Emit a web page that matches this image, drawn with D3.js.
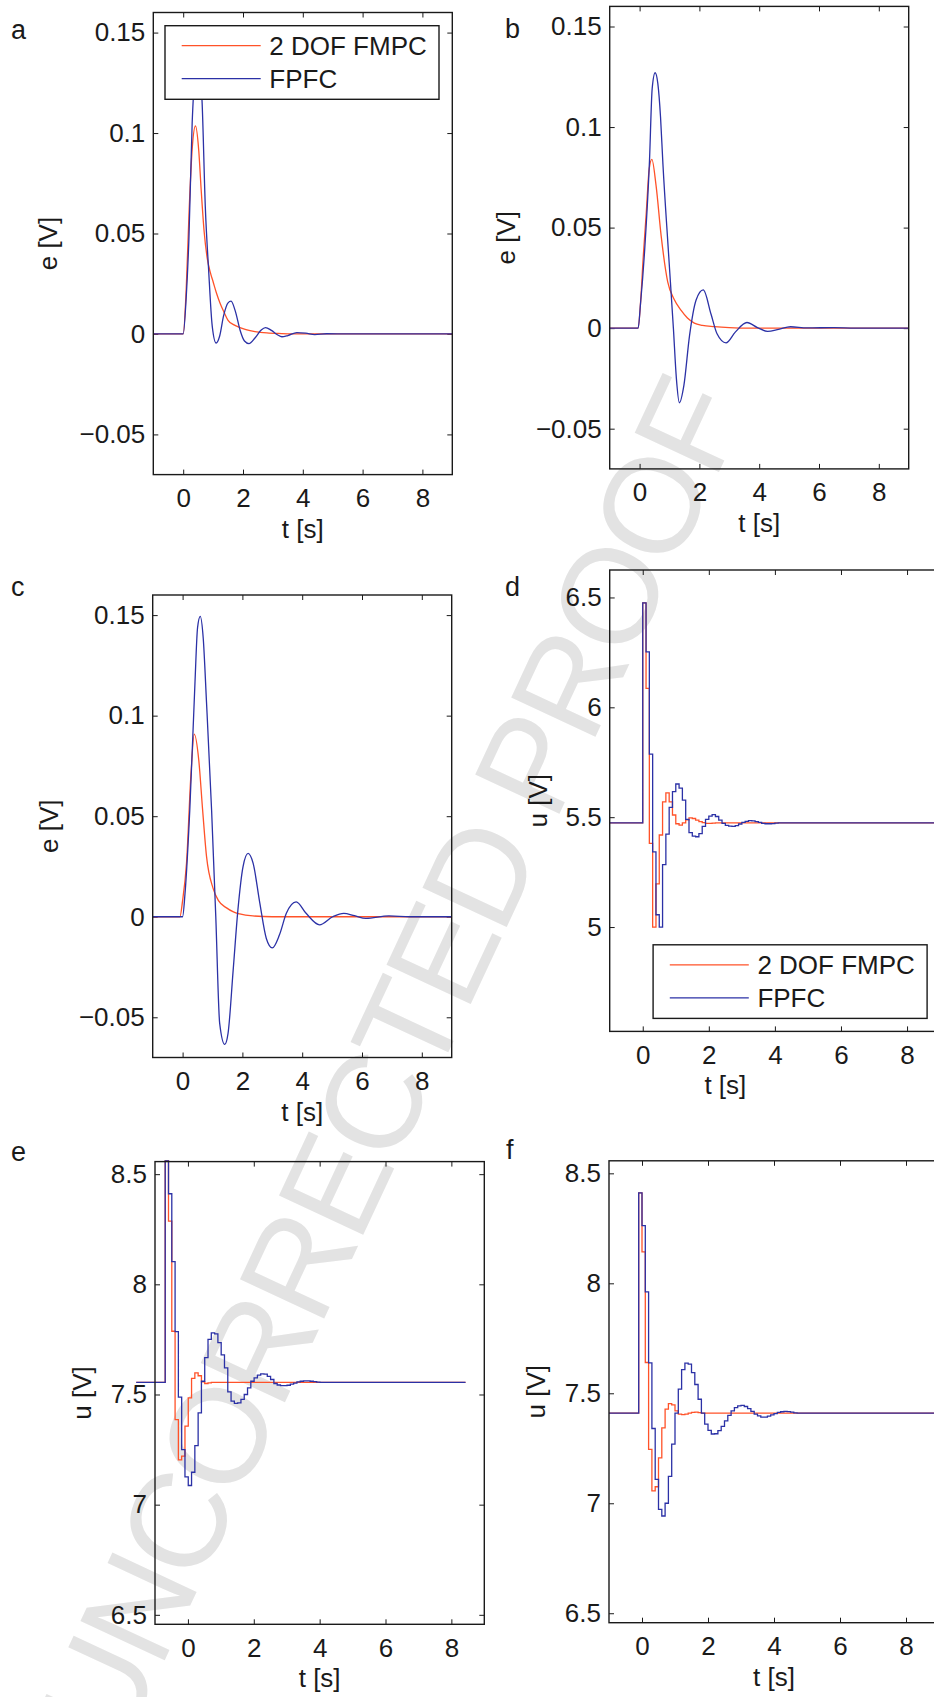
<!DOCTYPE html>
<html>
<head>
<meta charset="utf-8">
<script src="https://cdn.jsdelivr.net/npm/d3@7"></script>
<style>
  body { margin: 0; background: #fff; }
  svg text { font-family: "Liberation Sans", Arial, Helvetica, sans-serif; }
</style>
</head>
<body>
<svg id="fig" width="934" height="1697"></svg>
<script>
// ---- data ----
const seriesNames = ["2 DOF FMPC", "FPFC"];
const xTicks = [0, 2, 4, 6, 8];
const eTicks = [-0.05, 0, 0.05, 0.1, 0.15];
const eTickLabels = ["\u22120.05", "0", "0.05", "0.1", "0.15"];
const dTicks = [5, 5.5, 6, 6.5];
const efTicks = [6.5, 7, 7.5, 8, 8.5];

// panel a : e [V]
const tRedA  = [-1, 0, 0.1, 0.2, 0.3, 0.41, 0.52, 0.6, 0.7, 0.8, 0.9, 1.0, 1.12, 1.24, 1.36, 1.5, 1.7, 1.9, 2.1, 2.4, 2.8, 3.3, 4.0, 9];
const redA   = [0, 0, 0.022, 0.062, 0.092, 0.1035, 0.0913, 0.072, 0.051, 0.038, 0.031, 0.026, 0.020, 0.015, 0.011, 0.0068, 0.0045, 0.0032, 0.0022, 0.0012, 0.0005, 0.0002, 0, 0];
const tBlueA = [-1, 0, 0.1, 0.19, 0.3, 0.4, 0.48, 0.56, 0.63, 0.74, 0.85, 0.97, 1.1, 1.22, 1.35, 1.5, 1.6, 1.75, 1.9, 2.05, 2.2, 2.4, 2.6, 2.75, 2.95, 3.15, 3.3, 3.5, 3.8, 4.1, 4.4, 4.8, 5.5, 9];
const blueA  = [0, 0, 0.018, 0.047, 0.105, 0.13, 0.136, 0.131, 0.116, 0.063, 0.032, 0.004, -0.0045, -0.001, 0.009, 0.0155, 0.0163, 0.011, 0.002, -0.0035, -0.0048, -0.002, 0.0018, 0.0032, 0.0018, -0.0004, -0.0014, -0.0008, 0.0007, 0.0004, -0.0003, 0.0001, 0, 0];

// panel b : e [V]
const tRedB  = [-1, -0.05, 0.03, 0.12, 0.22, 0.32, 0.41, 0.55, 0.72, 0.94, 1.15, 1.39, 1.6, 1.83, 2.1, 2.5, 3.0, 3.6, 9];
const redB   = [0, 0, 0.0123, 0.035, 0.0567, 0.079, 0.0839, 0.071, 0.046, 0.023, 0.0145, 0.0088, 0.005, 0.0025, 0.0014, 0.0008, 0.0003, 0, 0];
const tBlueB = [-1, -0.05, 0.03, 0.17, 0.33, 0.42, 0.52, 0.61, 0.7, 0.78, 0.96, 1.13, 1.23, 1.33, 1.48, 1.67, 1.89, 2.13, 2.39, 2.59, 2.89, 3.2, 3.59, 3.94, 4.28, 4.65, 5.05, 5.6, 6.5, 7.2, 9];
const blueB  = [0, 0, 0.012, 0.039, 0.083, 0.119, 0.127, 0.1216, 0.105, 0.0816, 0.039, 0, -0.025, -0.0371, -0.0286, -0.0037, 0.014, 0.019, 0.0069, -0.0028, -0.0073, -0.002, 0.0028, 0.0003, -0.0016, -0.0006, 0.0007, 0.0001, 0.0003, 0, 0];

// panel c : e [V]
const tRedC  = [-1, -0.09, 0.0, 0.13, 0.28, 0.39, 0.54, 0.67, 0.8, 1.02, 1.2, 1.47, 1.7, 1.91, 2.35, 3.0, 9];
const redC   = [0, 0, 0.008, 0.0265, 0.071, 0.0908, 0.078, 0.053, 0.030, 0.0141, 0.008, 0.0044, 0.0024, 0.0014, 0.0004, 0, 0];
const tBlueC = [-1, 0, 0.08, 0.24, 0.41, 0.5, 0.59, 0.69, 0.8, 0.97, 1.11, 1.24, 1.41, 1.52, 1.69, 1.85, 2.02, 2.19, 2.36, 2.58, 2.8, 3.0, 3.24, 3.47, 3.8, 4.13, 4.58, 5.02, 5.39, 5.75, 6.13, 6.9, 7.6, 9];
const blueC  = [0, 0, 0.0114, 0.053, 0.115, 0.1437, 0.1494, 0.1385, 0.1065, 0.053, 0, -0.053, -0.0635, -0.058, -0.0268, 0.0034, 0.0248, 0.0315, 0.0265, 0.007, -0.0108, -0.0155, -0.009, 0.0017, 0.0074, 0.0017, -0.004, 0, 0.0017, 0.0005, -0.0008, 0.0004, 0, 0];

// panels d, e, f : u [V], control held over 0.1 s samples
const sampleDt = 0.1;
const baseD = 5.4745, stepStartD = 0;
const redD  = [6.475, 6.086, 5.381, 5.0, 5.196, 5.419, 5.57, 5.611, 5.57, 5.51, 5.47, 5.464, 5.474, 5.488, 5.497, 5.494, 5.487, 5.48, 5.475, 5.472, 5.472, 5.473, 5.474];
const blueD = [6.475, 6.252, 5.787, 5.342, 5.056, 5.0, 5.284, 5.423, 5.545, 5.616, 5.651, 5.632, 5.578, 5.49, 5.43, 5.414, 5.411, 5.425, 5.458, 5.49, 5.505, 5.512, 5.503, 5.487, 5.472, 5.463, 5.459, 5.458, 5.462, 5.469, 5.476, 5.481, 5.484, 5.483, 5.48, 5.476, 5.472, 5.47, 5.47, 5.471, 5.473, 5.474];

const baseE = 7.555, stepStartE = -0.69, spanE = [-1.57, 8.43];
const redE  = [8.56, 8.287, 7.787, 7.386, 7.203, 7.22, 7.356, 7.485, 7.573, 7.598, 7.585, 7.557, 7.55, 7.553, 7.555];
const blueE = [8.56, 8.411, 8.103, 7.785, 7.488, 7.25, 7.126, 7.087, 7.147, 7.268, 7.417, 7.56, 7.667, 7.75, 7.78, 7.775, 7.735, 7.68, 7.621, 7.512, 7.47, 7.46, 7.462, 7.478, 7.5, 7.53, 7.56, 7.575, 7.588, 7.594, 7.592, 7.582, 7.568, 7.55, 7.543, 7.54, 7.54, 7.542, 7.547, 7.552, 7.557, 7.56, 7.562, 7.562, 7.56, 7.558, 7.556, 7.555];

const baseF = 7.41, stepStartF = -0.1;
const redF  = [8.411, 8.143, 7.64, 7.245, 7.056, 7.075, 7.206, 7.343, 7.428, 7.453, 7.447, 7.42, 7.405, 7.403, 7.405, 7.41, 7.413, 7.414, 7.412, 7.41];
const blueF = [8.411, 8.262, 7.961, 7.638, 7.34, 7.109, 6.972, 6.942, 7.0, 7.122, 7.269, 7.41, 7.519, 7.608, 7.637, 7.633, 7.594, 7.54, 7.473, 7.41, 7.36, 7.331, 7.315, 7.316, 7.33, 7.35, 7.375, 7.4, 7.42, 7.435, 7.443, 7.445, 7.44, 7.43, 7.418, 7.405, 7.397, 7.392, 7.392, 7.396, 7.402, 7.408, 7.413, 7.416, 7.418, 7.417, 7.414, 7.411, 7.41];

// ---- helpers ----
const red = "#ff5229", blue = "#2b31a6", ink = "#1a1a1a";
const FONT = 26;

function zip(ts, vs) { return ts.map((t, i) => [t, vs[i]]); }
function stairs(t0, vals, base, tBegin, tEnd) {
  const pts = [[tBegin, base]];
  vals.forEach((v, i) => pts.push([t0 + i * sampleDt, v]));
  pts.push([tEnd, base]);
  return pts;
}

const svg = d3.select("#fig");

// watermark
svg.append("text")
  .attr("transform", "translate(121,1754) rotate(-65)")
  .attr("font-size", 135)
  .attr("textLength", 1486)
  .attr("lengthAdjust", "spacing")
  .attr("fill", "#e3e3e3")
  .text("UNCORRECTED PROOF");

const panels = [
  { tag: "a", box: [153.3, 12.5, 299, 462.1], yDom: [-0.07, 0.16], yTicks: eTicks, yLabels: eTickLabels, yName: "e [V]", yOff: 96,
    curve: d3.curveMonotoneX, lines: [zip(tRedA, redA), zip(tBlueA, blueA)], legend: "ne", tag_xy: [11, 39] },
  { tag: "b", box: [609.7, 6.4, 299, 462.5], yDom: [-0.07, 0.16], yTicks: eTicks, yLabels: eTickLabels, yName: "e [V]", yOff: 95,
    curve: d3.curveMonotoneX, lines: [zip(tRedB, redB), zip(tBlueB, blueB)], tag_xy: [505, 37.5] },
  { tag: "c", box: [152.7, 595, 299, 462.5], yDom: [-0.07, 0.16], yTicks: eTicks, yLabels: eTickLabels, yName: "e [V]", yOff: 95,
    curve: d3.curveMonotoneX, lines: [zip(tRedC, redC), zip(tBlueC, blueC)], tag_xy: [11, 595.7] },
  { tag: "d", box: [609.7, 570, 330.4, 461.4], yDom: [4.525, 6.625], yTicks: dTicks, yName: "u [V]", yOff: 63, tAt: 2.5,
    curve: d3.curveStepAfter, lines: [stairs(stepStartD, redD, baseD, -1, 9), stairs(stepStartD, blueD, baseD, -1, 9)], legend: "se", tag_xy: [505, 595.7] },
  { tag: "e", box: [155, 1161.6, 329.3, 462.7], yDom: [6.457, 8.557], yTicks: efTicks, yName: "u [V]", yOff: 64,
    curve: d3.curveStepAfter, lines: [stairs(stepStartE, redE, baseE, spanE[0], spanE[1]), stairs(stepStartE, blueE, baseE, spanE[0], spanE[1])], tag_xy: [11, 1160.5] },
  { tag: "f", box: [609, 1160.8, 330, 461.9], yDom: [6.457, 8.557], yTicks: efTicks, yName: "u [V]", yOff: 64,
    curve: d3.curveStepAfter, lines: [stairs(stepStartF, redF, baseF, -1, 9), stairs(stepStartF, blueF, baseF, -1, 9)], tag_xy: [506, 1158.6] }
];

panels.forEach(p => {
  const [L, T, W, H] = p.box;
  const x = d3.scaleLinear().domain([-1, 9]).range([L, L + W]);
  const y = d3.scaleLinear().domain(p.yDom).range([T + H, T]);
  const g = svg.append("g");

  const styleAxis = sel => {
    sel.attr("color", ink).attr("font-size", FONT).attr("font-family", null);
    sel.select(".domain").remove();
    sel.selectAll(".tick line").attr("stroke-width", 1);
  };

  g.append("g").attr("transform", `translate(0,${T + H})`)
    .call(d3.axisBottom(x).tickValues(xTicks).tickSize(-5).tickPadding(14).tickFormat(d3.format("d")))
    .call(styleAxis);
  g.append("g").attr("transform", `translate(0,${T})`)
    .call(d3.axisTop(x).tickValues(xTicks).tickSize(-5).tickFormat(""))
    .call(styleAxis);
  const fmt = p.yLabels ? (d, i) => p.yLabels[i] : d3.format("~g");
  g.append("g").attr("transform", `translate(${L},0)`)
    .call(d3.axisLeft(y).tickValues(p.yTicks).tickSize(-5).tickPadding(8).tickFormat(fmt))
    .call(styleAxis);
  g.append("g").attr("transform", `translate(${L + W},0)`)
    .call(d3.axisRight(y).tickValues(p.yTicks).tickSize(-5).tickFormat(""))
    .call(styleAxis);

  const line = d3.line().x(d => x(d[0])).y(d => y(d[1])).curve(p.curve);
  [red, blue].forEach((c, i) => {
    g.append("path").datum(p.lines[i])
      .attr("d", line).attr("fill", "none").attr("stroke", c).attr("stroke-width", 1.3);
  });

  g.append("rect").attr("x", L).attr("y", T).attr("width", W).attr("height", H)
    .attr("fill", "none").attr("stroke", ink).attr("stroke-width", 1.4);

  // axis titles
  g.append("text").attr("x", x(p.tAt ?? 4)).attr("y", T + H + 63)
    .attr("text-anchor", "middle").attr("font-size", FONT).attr("fill", ink).text("t [s]");
  g.append("text").attr("transform", `translate(${L - p.yOff},${T + H / 2}) rotate(-90)`)
    .attr("text-anchor", "middle").attr("font-size", FONT).attr("fill", ink).text(p.yName);

  // panel tag
  svg.append("text").attr("x", p.tag_xy[0]).attr("y", p.tag_xy[1])
    .attr("font-size", 27).attr("fill", ink).text(p.tag);

  // legend
  if (p.legend) {
    const lw = 274, lh = 73.6, inset = 13;
    const lx = p.legend === "ne" ? L + 11.7 : L + W - inset - lw;
    const ly = p.legend === "ne" ? T + 13.2 : T + H - inset - lh;
    const lg = g.append("g").attr("transform", `translate(${lx},${ly})`);
    lg.append("rect").attr("width", lw).attr("height", lh)
      .attr("fill", "#fff").attr("stroke", ink).attr("stroke-width", 1.4);
    [red, blue].forEach((c, i) => {
      const yy = 20 + i * 33;
      lg.append("line").attr("x1", 16.7).attr("x2", 95.7).attr("y1", yy).attr("y2", yy)
        .attr("stroke", c).attr("stroke-width", 1.3);
      lg.append("text").attr("x", 104.3).attr("y", yy + 9.3)
        .attr("font-size", FONT).attr("fill", ink).text(seriesNames[i]);
    });
  }
});
</script>
</body>
</html>
